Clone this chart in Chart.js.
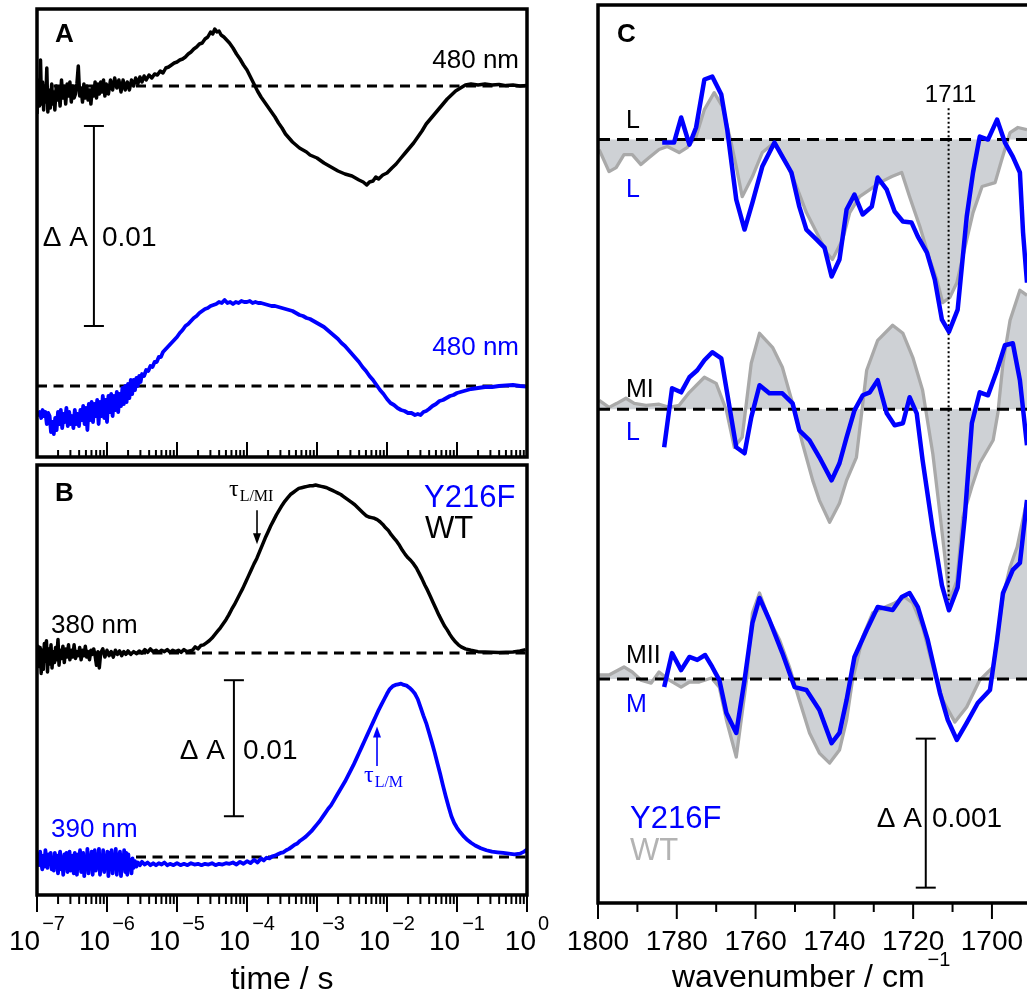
<!DOCTYPE html>
<html>
<head>
<meta charset="utf-8">
<title>Y216F / WT: flash photolysis transients and FTIR difference spectra</title>
<script src="https://cdn.jsdelivr.net/npm/chart.js@4.4.1/dist/chart.umd.min.js"></script>
<style>
  html, body { margin: 0; padding: 0; background: #fff; }
  body { position: relative; width: 1027px; height: 994px; overflow: hidden; }
  canvas { position: absolute; }
</style>
</head>
<body>
<canvas id="panelA" width="540" height="462" style="left:0;top:0"></canvas>
<canvas id="panelB" width="560" height="534" style="left:0;top:460px"></canvas>
<canvas id="panelC" width="467" height="994" style="left:560px;top:0"></canvas>
<script>
/* Values.
 * Panels A and B: [log10(t / s), ΔA in mOD].
 * Panel C: [wavenumber / cm-1, ΔA in units of 1e-4]. */

const TIME_EXPONENTS = [-7, -6, -5, -4, -3, -2, -1, 0];
const NU_TICKS = [1800, 1780, 1760, 1740, 1720, 1700];
const NU_MARK = 1711;

// A, WT 480 nm (black)
const A_WT_480 = [
  [-7.00,-1.4],[-6.98,0.3],[-6.965,-1.0],[-6.95,1.3],[-6.935,-0.9],[-6.92,0.2],[-6.905,-1.2],[-6.89,0.0],
  [-6.875,-0.8],[-6.86,0.9],[-6.845,-1.3],[-6.83,-0.2],[-6.81,-1.1],[-6.79,0.1],[-6.775,-0.9],[-6.76,-0.3],
  [-6.745,-1.2],[-6.725,0.0],[-6.71,-0.7],[-6.69,-0.1],[-6.67,-1.0],[-6.65,0.3],[-6.63,-0.6],[-6.61,0.0],
  [-6.59,-0.9],[-6.57,0.1],[-6.55,-0.5],[-6.53,0.2],[-6.51,-0.8],[-6.49,0.0],[-6.47,-0.6],[-6.45,-0.4],
  [-6.43,0.1],[-6.41,1.0],[-6.39,-0.5],[-6.37,-0.1],[-6.35,-0.8],[-6.33,0.1],[-6.31,-0.6],[-6.29,0.0],
  [-6.27,-0.7],[-6.25,-0.2],[-6.23,-0.9],[-6.21,-0.1],[-6.19,-0.5],[-6.17,0.2],[-6.15,-0.6],[-6.13,0.1],
  [-6.11,-0.4],[-6.09,0.2],[-6.07,-0.3],[-6.05,0.3],[-6.03,-0.5],[-6.01,0.1],[-5.98,-0.4],[-5.95,0.3],
  [-5.92,-0.2],[-5.89,0.4],[-5.86,-0.1],[-5.83,0.3],[-5.80,-0.3],[-5.77,0.3],[-5.74,-0.2],[-5.71,0.2],
  [-5.68,-0.2],[-5.65,0.3],[-5.62,0.0],[-5.59,0.4],[-5.56,0.1],[-5.53,0.45],[-5.50,0.2],[-5.47,0.5],
  [-5.44,0.3],[-5.40,0.55],[-5.36,0.4],[-5.32,0.6],[-5.28,0.55],[-5.24,0.75],[-5.20,0.65],[-5.16,0.9],
  [-5.12,0.95],[-5.08,1.05],[-5.04,1.15],[-5.00,1.2],[-4.96,1.3],[-4.92,1.35],[-4.88,1.45],[-4.84,1.6],
  [-4.80,1.7],[-4.76,1.85],[-4.72,1.95],[-4.68,2.1],[-4.64,2.15],[-4.60,2.35],[-4.56,2.45],[-4.52,2.7],
  [-4.49,2.6],[-4.46,2.85],[-4.43,2.7],[-4.40,2.75],[-4.37,2.55],[-4.33,2.45],[-4.29,2.3],[-4.25,2.15],
  [-4.20,1.9],[-4.15,1.6],[-4.10,1.35],[-4.05,1.05],[-4.00,0.8],[-3.95,0.45],[-3.90,0.1],[-3.85,-0.25],
  [-3.80,-0.55],[-3.75,-0.8],[-3.70,-1.05],[-3.65,-1.3],[-3.60,-1.55],[-3.55,-1.85],[-3.50,-2.1],[-3.45,-2.4],
  [-3.40,-2.6],[-3.35,-2.8],[-3.30,-2.95],[-3.25,-3.1],[-3.20,-3.2],[-3.15,-3.3],[-3.10,-3.45],[-3.00,-3.6],
  [-2.90,-3.85],[-2.80,-4.05],[-2.70,-4.25],[-2.60,-4.4],[-2.50,-4.5],[-2.40,-4.7],[-2.34,-4.8],[-2.29,-4.95],
  [-2.25,-4.8],[-2.20,-4.75],[-2.16,-4.55],[-2.12,-4.65],[-2.06,-4.45],[-2.00,-4.35],[-1.93,-4.1],[-1.87,-3.9],
  [-1.80,-3.6],[-1.74,-3.35],[-1.68,-3.1],[-1.62,-2.85],[-1.56,-2.55],[-1.50,-2.25],[-1.44,-1.9],[-1.38,-1.65],
  [-1.32,-1.4],[-1.26,-1.15],[-1.20,-0.9],[-1.14,-0.65],[-1.08,-0.45],[-1.02,-0.25],[-0.95,-0.1],[-0.88,0.05],
  [-0.80,0.1],[-0.70,0.05],[-0.60,0.1],[-0.50,0.05],[-0.40,0.08],[-0.30,0.02],[-0.20,0.05],[-0.10,0.0],[0.0,0.02]
];

// A, Y216F 480 nm (blue)
const A_Y216F_480 = [
  [-7.00,-1.5],[-6.98,-1.4],[-6.96,-1.3],[-6.94,-1.6],[-6.92,-1.2],[-6.90,-1.5],[-6.88,-1.3],[-6.86,-1.9],
  [-6.84,-1.35],[-6.82,-1.5],[-6.80,-2.3],[-6.78,-1.8],[-6.76,-2.4],[-6.74,-1.6],[-6.72,-2.2],[-6.70,-1.3],
  [-6.68,-1.9],[-6.66,-1.2],[-6.64,-2.1],[-6.62,-1.4],[-6.60,-1.8],[-6.58,-1.1],[-6.56,-2.0],[-6.54,-1.3],
  [-6.52,-1.9],[-6.50,-1.5],[-6.48,-2.1],[-6.46,-1.2],[-6.44,-1.9],[-6.42,-1.4],[-6.40,-2.0],[-6.38,-1.2],
  [-6.36,-1.7],[-6.34,-1.0],[-6.32,-1.9],[-6.30,-1.1],[-6.28,-2.2],[-6.26,-0.9],[-6.24,-1.7],[-6.22,-0.8],
  [-6.20,-1.8],[-6.18,-0.9],[-6.16,-1.5],[-6.14,-0.7],[-6.12,-1.9],[-6.10,-0.8],[-6.08,-1.5],[-6.06,-0.5],
  [-6.04,-1.6],[-6.02,-0.7],[-6.00,-1.8],[-5.98,-0.5],[-5.96,-1.3],[-5.94,-0.4],[-5.92,-1.5],[-5.90,-0.5],
  [-5.88,-1.2],[-5.86,-0.3],[-5.84,-1.3],[-5.82,-0.4],[-5.80,-1.0],[-5.78,-0.1],[-5.76,-0.9],[-5.74,0.0],
  [-5.72,-0.8],[-5.70,0.1],[-5.68,-0.6],[-5.66,0.3],[-5.64,-0.4],[-5.62,0.3],[-5.60,-0.2],[-5.58,0.4],
  [-5.56,0.0],[-5.54,0.5],[-5.52,0.2],[-5.50,0.6],[-5.47,0.5],[-5.44,0.8],[-5.41,0.75],[-5.38,1.0],
  [-5.35,0.95],[-5.32,1.2],[-5.29,1.2],[-5.26,1.45],[-5.23,1.45],[-5.20,1.7],[-5.16,1.85],[-5.12,2.0],
  [-5.08,2.15],[-5.04,2.3],[-5.00,2.45],[-4.96,2.65],[-4.92,2.8],[-4.88,3.0],[-4.84,3.1],[-4.80,3.25],
  [-4.76,3.4],[-4.72,3.5],[-4.68,3.65],[-4.64,3.75],[-4.60,3.85],[-4.56,3.9],[-4.52,4.0],[-4.48,4.05],
  [-4.44,4.1],[-4.40,4.2],[-4.36,4.15],[-4.32,4.3],[-4.28,4.15],[-4.24,4.2],[-4.20,4.1],[-4.16,4.2],
  [-4.12,4.15],[-4.08,4.25],[-4.04,4.2],[-4.00,4.2],[-3.96,4.25],[-3.92,4.15],[-3.88,4.2],[-3.84,4.15],
  [-3.80,4.15],[-3.75,4.1],[-3.70,4.05],[-3.65,4.0],[-3.60,4.0],[-3.55,3.95],[-3.50,3.9],[-3.45,3.85],
  [-3.40,3.8],[-3.35,3.75],[-3.30,3.65],[-3.25,3.55],[-3.20,3.5],[-3.15,3.4],[-3.10,3.35],[-3.05,3.25],
  [-3.00,3.15],[-2.95,3.05],[-2.90,2.95],[-2.85,2.8],[-2.80,2.65],[-2.75,2.5],[-2.70,2.35],[-2.65,2.15],
  [-2.60,2.0],[-2.55,1.8],[-2.50,1.6],[-2.45,1.4],[-2.40,1.2],[-2.35,0.95],[-2.30,0.75],[-2.25,0.5],
  [-2.20,0.3],[-2.15,0.05],[-2.10,-0.2],[-2.05,-0.4],[-2.00,-0.65],[-1.95,-0.85],[-1.90,-0.95],[-1.85,-1.1],
  [-1.80,-1.2],[-1.75,-1.25],[-1.70,-1.35],[-1.65,-1.35],[-1.60,-1.45],[-1.56,-1.4],[-1.52,-1.45],[-1.48,-1.3],
  [-1.44,-1.25],[-1.40,-1.15],[-1.35,-1.0],[-1.30,-0.9],[-1.25,-0.75],[-1.20,-0.7],[-1.15,-0.6],[-1.10,-0.5],
  [-1.05,-0.45],[-1.00,-0.35],[-0.90,-0.25],[-0.80,-0.15],[-0.70,-0.1],[-0.60,-0.05],[-0.50,-0.05],[-0.40,0.0],
  [-0.30,0.03],[-0.20,0.05],[-0.10,0.0],[0.0,-0.03]
];

// B, WT 380 nm (black)
const B_WT_380 = [
  [-7.00,-0.6],[-6.985,0.5],[-6.97,-1.0],[-6.955,0.4],[-6.94,-1.5],[-6.925,0.2],[-6.91,-1.2],[-6.895,0.7],
  [-6.88,-0.6],[-6.865,0.9],[-6.85,-1.4],[-6.835,0.3],[-6.82,-0.8],[-6.80,0.6],[-6.785,-1.1],[-6.77,0.1],
  [-6.75,-0.7],[-6.735,0.4],[-6.72,-0.5],[-6.70,1.0],[-6.685,-0.9],[-6.67,0.2],[-6.65,-0.4],[-6.63,0.5],
  [-6.61,-0.7],[-6.59,0.3],[-6.57,-0.3],[-6.55,0.6],[-6.53,-0.5],[-6.51,0.2],[-6.49,-0.3],[-6.47,0.6],
  [-6.45,-0.4],[-6.43,0.1],[-6.41,-0.2],[-6.39,0.4],[-6.37,-0.5],[-6.35,0.2],[-6.33,-0.2],[-6.31,0.5],
  [-6.29,-0.3],[-6.27,0.1],[-6.25,-0.5],[-6.23,0.2],[-6.21,-0.1],[-6.19,0.3],[-6.17,-0.2],[-6.15,-0.9],
  [-6.13,0.1],[-6.11,-1.1],[-6.09,0.0],[-6.06,0.3],[-6.03,-0.3],[-6.00,0.2],[-5.97,-0.2],[-5.94,0.1],
  [-5.91,-0.3],[-5.88,0.2],[-5.85,-0.1],[-5.82,0.15],[-5.79,-0.2],[-5.76,0.1],[-5.73,-0.1],[-5.70,0.15],
  [-5.66,-0.1],[-5.62,0.1],[-5.58,-0.05],[-5.54,0.15],[-5.50,0.0],[-5.46,0.25],[-5.42,0.05],[-5.38,0.3],
  [-5.34,0.1],[-5.30,0.2],[-5.26,0.05],[-5.22,0.2],[-5.18,0.1],[-5.14,0.25],[-5.10,0.05],[-5.06,0.2],
  [-5.02,0.1],[-4.98,0.2],[-4.94,0.05],[-4.90,0.25],[-4.86,0.1],[-4.82,0.15],[-4.78,0.2],[-4.74,0.45],
  [-4.70,0.3],[-4.66,0.55],[-4.62,0.6],[-4.58,0.75],[-4.54,0.9],[-4.50,1.1],[-4.46,1.35],[-4.42,1.6],
  [-4.38,1.85],[-4.34,2.15],[-4.30,2.45],[-4.26,2.8],[-4.22,3.2],[-4.18,3.55],[-4.14,3.95],[-4.10,4.35],
  [-4.06,4.75],[-4.02,5.2],[-3.98,5.65],[-3.94,6.1],[-3.90,6.55],[-3.86,6.95],[-3.82,7.45],[-3.78,7.95],
  [-3.74,8.45],[-3.70,8.9],[-3.66,9.35],[-3.62,9.75],[-3.58,10.15],[-3.54,10.5],[-3.50,10.85],[-3.46,11.15],
  [-3.42,11.4],[-3.38,11.65],[-3.34,11.8],[-3.30,11.95],[-3.26,12.1],[-3.22,12.15],[-3.18,12.2],[-3.14,12.25],
  [-3.10,12.3],[-3.06,12.3],[-3.02,12.35],[-2.98,12.3],[-2.94,12.25],[-2.90,12.2],[-2.86,12.15],[-2.82,12.05],
  [-2.78,11.95],[-2.74,11.85],[-2.70,11.75],[-2.66,11.65],[-2.62,11.5],[-2.58,11.35],[-2.54,11.2],[-2.50,11.05],
  [-2.46,10.9],[-2.42,10.7],[-2.38,10.5],[-2.34,10.3],[-2.30,10.1],[-2.26,10.0],[-2.22,9.95],[-2.18,9.9],
  [-2.14,9.8],[-2.10,9.65],[-2.06,9.45],[-2.02,9.2],[-1.98,9.0],[-1.94,8.7],[-1.90,8.45],[-1.86,8.2],
  [-1.82,7.9],[-1.78,7.55],[-1.74,7.25],[-1.70,7.0],[-1.66,6.8],[-1.62,6.55],[-1.58,6.25],[-1.54,5.85],
  [-1.50,5.45],[-1.46,5.0],[-1.42,4.6],[-1.38,4.15],[-1.34,3.7],[-1.30,3.25],[-1.26,2.8],[-1.22,2.4],
  [-1.18,2.0],[-1.14,1.7],[-1.10,1.35],[-1.06,1.05],[-1.02,0.8],[-0.98,0.6],[-0.94,0.45],[-0.88,0.3],
  [-0.80,0.2],[-0.70,0.1],[-0.60,0.08],[-0.50,0.05],[-0.40,0.03],[-0.30,0.05],[-0.20,0.08],[-0.10,0.15],[-0.02,0.25]
];

// B, Y216F 390 nm (blue)
const B_Y216F_390 = [
  [-7.00,-0.3],[-6.985,0.2],[-6.97,-0.6],[-6.955,0.4],[-6.94,-0.4],[-6.925,-0.9],[-6.91,0.1],[-6.895,-0.7],
  [-6.88,0.5],[-6.865,-0.3],[-6.85,-0.8],[-6.835,0.2],[-6.82,-0.5],[-6.805,0.3],[-6.79,-0.9],[-6.775,-0.1],
  [-6.76,-1.0],[-6.745,0.3],[-6.73,-0.6],[-6.715,0.1],[-6.70,-1.2],[-6.685,-0.2],[-6.67,0.4],[-6.655,-0.9],
  [-6.64,-0.3],[-6.625,-1.3],[-6.61,0.2],[-6.595,-0.8],[-6.58,0.3],[-6.565,-1.1],[-6.55,-0.2],[-6.535,0.4],
  [-6.52,-1.0],[-6.505,-0.3],[-6.49,0.1],[-6.475,-1.2],[-6.46,0.3],[-6.445,-0.7],[-6.43,-1.3],[-6.415,0.2],
  [-6.40,-0.5],[-6.385,0.5],[-6.37,-1.1],[-6.355,-0.2],[-6.34,0.3],[-6.325,-1.4],[-6.31,0.0],[-6.295,-0.9],
  [-6.28,0.6],[-6.265,-1.2],[-6.25,0.1],[-6.235,-0.6],[-6.22,0.4],[-6.205,-1.3],[-6.19,-0.1],[-6.175,0.5],
  [-6.16,-1.0],[-6.145,0.2],[-6.13,-0.8],[-6.115,0.6],[-6.10,-1.3],[-6.085,0.0],[-6.07,-0.9],[-6.055,0.5],
  [-6.04,-1.1],[-6.025,0.1],[-6.01,-0.7],[-5.995,0.4],[-5.98,-1.4],[-5.965,0.3],[-5.95,-0.8],[-5.935,0.5],
  [-5.92,-1.2],[-5.905,0.1],[-5.89,-0.6],[-5.875,0.6],[-5.86,-1.3],[-5.845,0.2],[-5.83,-0.9],[-5.815,0.4],
  [-5.80,-1.4],[-5.785,0.1],[-5.77,-0.8],[-5.755,0.5],[-5.74,-1.1],[-5.725,0.3],[-5.71,-1.3],[-5.695,0.2],
  [-5.68,-0.9],[-5.665,-0.2],[-5.65,-1.2],[-5.635,-0.1],[-5.62,-0.8],[-5.60,-0.3],[-5.58,-0.7],[-5.56,-0.4],
  [-5.53,-0.6],[-5.50,-0.35],[-5.46,-0.55],[-5.42,-0.4],[-5.38,-0.6],[-5.34,-0.45],[-5.30,-0.6],[-5.26,-0.45],
  [-5.22,-0.55],[-5.18,-0.4],[-5.14,-0.6],[-5.10,-0.5],[-5.05,-0.6],[-5.00,-0.45],[-4.95,-0.6],[-4.90,-0.5],
  [-4.85,-0.6],[-4.80,-0.45],[-4.75,-0.55],[-4.70,-0.5],[-4.65,-0.6],[-4.60,-0.5],[-4.55,-0.55],[-4.50,-0.45],
  [-4.45,-0.6],[-4.40,-0.5],[-4.35,-0.55],[-4.30,-0.45],[-4.25,-0.5],[-4.20,-0.4],[-4.15,-0.55],[-4.10,-0.35],
  [-4.05,-0.5],[-4.00,-0.3],[-3.95,-0.45],[-3.90,-0.2],[-3.85,-0.4],[-3.80,-0.1],[-3.76,-0.25],[-3.72,-0.05],
  [-3.68,-0.1],[-3.64,0.05],[-3.60,0.1],[-3.56,0.2],[-3.52,0.3],[-3.48,0.35],[-3.44,0.5],[-3.40,0.6],
  [-3.36,0.75],[-3.32,0.9],[-3.28,1.0],[-3.24,1.2],[-3.20,1.35],[-3.16,1.5],[-3.12,1.7],[-3.08,1.9],
  [-3.04,2.15],[-3.00,2.4],[-2.96,2.65],[-2.92,2.95],[-2.88,3.25],[-2.84,3.55],[-2.80,3.8],[-2.76,4.15],
  [-2.72,4.5],[-2.68,4.85],[-2.64,5.2],[-2.60,5.55],[-2.56,5.95],[-2.52,6.35],[-2.48,6.75],[-2.44,7.2],
  [-2.40,7.65],[-2.36,8.1],[-2.32,8.55],[-2.28,9.0],[-2.24,9.45],[-2.20,9.9],[-2.16,10.35],[-2.12,10.8],
  [-2.08,11.2],[-2.04,11.6],[-2.00,12.0],[-1.96,12.35],[-1.92,12.55],[-1.88,12.65],[-1.84,12.7],[-1.80,12.75],
  [-1.76,12.65],[-1.72,12.6],[-1.68,12.45],[-1.64,12.25],[-1.60,12.0],[-1.56,11.6],[-1.52,11.0],[-1.48,10.4],
  [-1.44,9.85],[-1.40,9.15],[-1.36,8.45],[-1.32,7.7],[-1.28,6.9],[-1.24,6.1],[-1.20,5.25],[-1.16,4.45],
  [-1.12,3.7],[-1.08,3.0],[-1.04,2.5],[-1.00,2.15],[-0.95,1.8],[-0.90,1.5],[-0.85,1.25],[-0.80,1.05],
  [-0.74,0.85],[-0.66,0.65],[-0.58,0.5],[-0.50,0.4],[-0.42,0.35],[-0.34,0.3],[-0.26,0.25],[-0.18,0.2],
  [-0.10,0.25],[-0.04,0.4],[0.0,0.55]
];

// C, pair 1: WT L (grey) and Y216F L (blue)
const C_WT_L = [
  [1799.7,-0.67],[1797.2,-2.15],[1795.4,-1.88],[1793.4,-1.01],[1791.3,-1.01],[1789.1,-1.68],[1787.0,-1.21],
  [1784.5,-0.67],[1782.4,-0.47],[1779.4,-0.87],[1777.4,-0.54],[1775.1,0.20],[1773.0,2.01],[1770.5,3.15],
  [1768.4,2.21],[1766.2,-0.20],[1764.9,-1.81],[1763.4,-3.83],[1760.8,-2.48],[1758.3,-0.87],[1755.2,-0.20],
  [1752.2,-1.54],[1749.6,-3.15],[1747.1,-4.90],[1744.5,-6.24],[1742.0,-7.58],[1740.5,-8.05],[1737.9,-6.71],
  [1736.1,-4.90],[1733.6,-3.83],[1731.0,-3.36],[1728.5,-2.89],[1725.4,-2.48],[1722.9,-2.21],[1720.9,-3.83],
  [1718.3,-5.84],[1715.8,-8.05],[1714.0,-9.40],[1712.5,-10.94],[1710.7,-10.60],[1708.9,-9.60],[1706.4,-6.71],
  [1704.8,-4.90],[1702.5,-3.15],[1699.2,-2.89],[1697.5,-1.34],[1695.4,0.47],[1693.4,0.81],[1691.1,0.67]
];
const C_Y216F_L = [
  [1783.7,-0.20],[1780.7,-0.20],[1778.9,1.48],[1776.8,-0.34],[1775.1,0.81],[1773.0,4.03],[1771.0,4.23],
  [1768.7,3.02],[1767.2,0.67],[1764.9,-4.03],[1762.8,-6.04],[1760.8,-4.23],[1758.3,-1.81],[1755.2,-0.20],
  [1753.2,-1.14],[1750.9,-2.21],[1748.9,-4.50],[1747.1,-6.04],[1744.5,-6.71],[1742.5,-7.25],[1740.7,-9.19],
  [1738.7,-8.05],[1736.9,-4.70],[1734.9,-3.69],[1732.8,-5.03],[1730.5,-4.50],[1729.0,-2.55],[1726.7,-3.36],
  [1724.7,-4.83],[1722.6,-5.50],[1720.4,-5.57],[1718.8,-6.51],[1716.5,-7.58],[1714.5,-9.40],[1712.7,-12.08],
  [1710.9,-12.9],[1708.7,-11.41],[1706.4,-5.17],[1704.8,-2.21],[1703.1,0.20],[1701.0,0.0],[1698.7,1.34],
  [1696.7,-0.20],[1694.7,-1.14],[1692.9,-2.21],[1692.1,-6.24],[1691.1,-9.60]
];

// C, pair 2: WT MI (grey) and Y216F L (blue)
const C_WT_MI = [
  [1799.7,0.60],[1797.2,0.13],[1795.2,0.40],[1792.9,0.74],[1790.8,0.40],[1787.8,0.27],[1784.5,0.34],
  [1781.9,0.13],[1779.4,0.27],[1776.8,1.14],[1773.0,2.15],[1770.0,1.74],[1767.4,-0.07],[1765.4,-2.55],
  [1763.4,-1.88],[1761.1,3.09],[1759.0,5.10],[1755.7,4.16],[1753.2,2.82],[1750.6,0.40],[1748.1,-2.28],
  [1745.5,-4.77],[1743.8,-6.11],[1741.2,-7.58],[1738.7,-6.31],[1736.9,-4.77],[1734.4,-3.22],[1731.8,2.62],
  [1729.0,4.63],[1725.2,5.64],[1722.6,5.10],[1720.1,3.49],[1717.6,1.28],[1715.0,-3.0],[1713.2,-7.0],
  [1710.7,-12.8],[1708.9,-11.5],[1707.4,-7.25],[1705.1,-5.2],[1703.1,-3.62],[1699.7,-2.08],[1698.5,-0.27],
  [1697.2,3.09],[1695.4,5.97],[1692.9,7.99],[1691.1,7.65]
];
const C_Y216F_L2 = [
  [1783.2,-2.55],[1781.2,1.41],[1778.9,1.14],[1776.8,2.15],[1774.8,2.62],[1773.0,3.29],[1771.0,3.83],
  [1768.7,3.42],[1767.2,1.07],[1764.9,-2.55],[1762.8,-2.95],[1761.1,-0.54],[1759.0,1.61],[1756.5,1.07],
  [1753.2,1.07],[1750.6,0.40],[1748.9,-1.41],[1746.3,-2.08],[1743.8,-3.22],[1740.7,-4.77],[1738.7,-3.62],
  [1736.9,-1.88],[1734.9,-0.07],[1732.8,0.94],[1731.0,1.14],[1729.0,1.95],[1726.7,-0.27],[1724.7,-1.07],
  [1722.6,-0.94],[1720.9,0.81],[1719.1,-0.27],[1717.6,-3.42],[1715.0,-8.12],[1712.7,-11.81],[1710.9,-13.49],
  [1708.7,-11.95],[1706.9,-7.25],[1705.1,-0.94],[1703.1,1.14],[1701.0,0.94],[1698.7,2.62],[1696.7,4.30],
  [1694.7,4.43],[1692.9,1.95],[1691.1,-2.42]
];

// C, pair 3: WT MII (grey) and Y216F M (blue)
const C_WT_MII = [
  [1799.7,0.27],[1797.2,0.27],[1793.4,0.81],[1791.3,0.47],[1789.1,-0.07],[1786.5,-0.27],[1784.5,0.47],
  [1781.9,-0.07],[1778.9,-0.54],[1776.8,-0.20],[1774.3,-0.20],[1771.2,0.07],[1769.2,-0.54],[1767.4,-2.75],
  [1764.9,-5.23],[1762.3,-0.07],[1760.8,4.43],[1759.0,5.77],[1756.5,3.96],[1753.9,2.62],[1751.4,0.81],
  [1748.9,-1.41],[1746.3,-3.62],[1743.8,-4.97],[1741.2,-5.64],[1738.7,-4.77],[1736.9,-2.75],[1735.4,-0.07],
  [1732.8,2.82],[1730.3,4.43],[1727.7,4.77],[1724.7,5.10],[1722.1,5.50],[1720.1,5.10],[1717.6,3.49],
  [1715.0,0.81],[1712.5,-1.41],[1709.4,-2.89],[1706.4,-1.88],[1703.1,-0.07],[1699.7,0.81],[1697.2,5.50],
  [1695.4,7.52],[1693.6,8.86],[1691.1,12.01]
];
const C_Y216F_M = [
  [1783.2,-0.54],[1781.2,1.74],[1778.9,0.60],[1776.8,1.48],[1774.8,1.28],[1772.8,1.61],[1771.0,0.81],
  [1769.2,-0.07],[1767.4,-2.28],[1764.9,-3.62],[1762.8,-0.07],[1760.8,3.76],[1759.0,5.44],[1756.5,3.96],
  [1753.2,1.74],[1750.1,-0.54],[1747.1,-0.74],[1743.8,-2.08],[1740.7,-4.30],[1738.7,-3.62],[1736.9,-1.41],
  [1734.9,1.48],[1731.8,3.29],[1729.0,4.83],[1725.2,4.63],[1722.9,5.50],[1720.9,5.77],[1718.8,4.83],
  [1716.3,2.62],[1713.2,-0.94],[1711.2,-2.75],[1708.9,-4.09],[1706.4,-2.95],[1703.6,-1.61],[1700.5,-0.74],
  [1698.7,2.62],[1697.2,5.77],[1694.7,7.32],[1692.9,7.79],[1691.1,12.01]
];

// vertical offsets of the stacked traces (same units as each panel)
const A_OFFSETS = { wt: 15, y216f: 0 };
const B_OFFSETS = { wt: 15, y216f: 0 };
const C_OFFSETS = { top: 36.2, mid: 18.1, low: 0 };
const C_MARK_SPAN = [38.3, 5.3];

// scale bars: ΔA 0.01 (A, B) and ΔA 0.001 (C)
const A_BAR = { x: 6.5e-7, lo: 3, hi: 13 };
const B_BAR = { x: 6.5e-5, lo: 3, hi: 13 };
const C_BAR = { x: 1716.8, lo: -14, hi: -4 };

// τ arrows in B
const B_ARROWS = [
  { t: 1.39e-4, from: 25.5, to: 23.0, blue: false },
  { t: 7.2e-3, from: 6.7, to: 9.6, blue: true }
];

/* ── styles ─────────────────────────────────────────── */
const BLUE = '#0000ff';
const BLACK = '#000000';
const GRAY_LINE = '#a9a9a9';
const GRAY_FILL = '#ced1d5';
const GRAY_TEXT = '#b3b3b3';
const SANS = '"Liberation Sans", Arial, sans-serif';
const SERIF = '"Liberation Serif", "DejaVu Serif", serif';
const MINUS = '\u2212';

const toTime = (arr, off) => arr.map(([lg, v]) => ({ x: Math.pow(10, lg), y: v + off }));
const toNu = (arr, off) => arr.map(([nu, v]) => ({ x: nu, y: v + off }));

const trace = (data, color, width, order) =>
  ({ data, borderColor: color, borderWidth: width, borderJoinStyle: 'round', fill: false, order });
const dashed = (x0, x1, y, dash) =>
  ({ data: [{ x: x0, y }, { x: x1, y }], borderColor: BLACK, borderWidth: 3, borderDash: dash, fill: false, order: 5 });
const wtArea = (arr, off) =>
  ({ data: toNu(arr, off), borderColor: GRAY_LINE, borderWidth: 3.3, borderJoinStyle: 'round',
     backgroundColor: GRAY_FILL, fill: { value: off }, order: 6 });

/* ── drawing helpers ────────────────────────────────── */
function stroke(ctx, x1, y1, x2, y2, w, color) {
  ctx.beginPath(); ctx.moveTo(x1, y1); ctx.lineTo(x2, y2);
  ctx.lineWidth = w; ctx.strokeStyle = color || BLACK; ctx.stroke();
}
function text(ctx, s, x, y, size, o = {}) {
  ctx.font = `${o.bold ? 'bold ' : ''}${size}px ${o.family || SANS}`;
  ctx.fillStyle = o.color || BLACK;
  ctx.textAlign = o.align || 'left';
  ctx.textBaseline = 'alphabetic';
  ctx.fillText(s, x, y);
  return ctx.measureText(s).width;
}
function frame(ctx, a, sides, w) {
  ctx.save();
  ctx.lineWidth = w; ctx.strokeStyle = BLACK; ctx.lineCap = 'square';
  ctx.beginPath();
  if (sides.includes('t')) { ctx.moveTo(a.left, a.top); ctx.lineTo(a.right, a.top); }
  if (sides.includes('b')) { ctx.moveTo(a.left, a.bottom); ctx.lineTo(a.right, a.bottom); }
  if (sides.includes('l')) { ctx.moveTo(a.left, a.top); ctx.lineTo(a.left, a.bottom); }
  if (sides.includes('r')) { ctx.moveTo(a.right, a.top); ctx.lineTo(a.right, a.bottom); }
  ctx.stroke();
  ctx.restore();
}
function scaleBar(ctx, x, y1, y2, half) {
  stroke(ctx, x, y1, x, y2, 2);
  stroke(ctx, x - half, y1, x + half, y1, 2);
  stroke(ctx, x - half, y2, x + half, y2, 2);
}
function arrow(ctx, x, yFrom, yTo, color) {
  const dir = Math.sign(yTo - yFrom);
  stroke(ctx, x, yFrom, x, yTo - dir * 8, 1.6, color);
  ctx.beginPath();
  ctx.moveTo(x, yTo); ctx.lineTo(x - 4, yTo - dir * 11); ctx.lineTo(x + 4, yTo - dir * 11);
  ctx.closePath(); ctx.fillStyle = color; ctx.fill();
}
function logTicks(ctx, xs, y0, dir, major, minor) {
  for (const e of TIME_EXPONENTS) {
    for (let k = 1; k <= 9; k++) {
      const v = k * Math.pow(10, e);
      if (v > 1.000001) break;
      const px = xs.getPixelForValue(v);
      stroke(ctx, px, y0, px, y0 + dir * (k === 1 ? major : minor), 2);
    }
  }
}
function pow10(ctx, cx, y, exp) {
  const sup = String(exp).replace('-', MINUS);
  ctx.font = `28px ${SANS}`; const wb = ctx.measureText('10').width;
  ctx.font = `20px ${SANS}`; const ws = ctx.measureText(sup).width;
  const x0 = cx - (wb + ws + 2) / 2;
  text(ctx, '10', x0, y, 28);
  text(ctx, sup, x0 + wb + 2, y - 20, 20);
}
function tau(ctx, x, y, sub, color) {
  const w = text(ctx, 'τ', x, y, 24, { family: SERIF, color });
  text(ctx, sub, x + w + 1, y + 5, 16, { family: SERIF, color });
}

const baseOptions = (padding, xScale, yScale) => ({
  responsive: false,
  animation: false,
  events: [],
  layout: { padding },
  elements: { point: { radius: 0 }, line: { tension: 0 } },
  plugins: { legend: { display: false }, tooltip: { enabled: false } },
  scales: { x: Object.assign({ display: false }, xScale), y: Object.assign({ display: false }, yScale) }
});

/* ── A ──────────────────────────────────────────────── */
new Chart(document.getElementById('panelA'), {
  type: 'line',
  data: {
    datasets: [
      trace(toTime(A_Y216F_480, A_OFFSETS.y216f), BLUE, 3.8, 1),
      trace(toTime(A_WT_480, A_OFFSETS.wt), BLACK, 3.5, 2),
      dashed(1e-7, 1, A_OFFSETS.wt, [10, 6.5]),
      dashed(1e-7, 1, A_OFFSETS.y216f, [10, 6.5])
    ]
  },
  options: baseOptions({ left: 37, right: 13, top: 9, bottom: 5 },
    { type: 'logarithmic', min: 1e-7, max: 1 },
    { type: 'linear', min: -3.55, max: 18.85 }),
  plugins: [{
    id: 'decorA',
    afterDraw(chart) {
      const { ctx, chartArea: a, scales: { x, y } } = chart;
      ctx.save();
      logTicks(ctx, x, a.bottom, -1, 15, 7);
      frame(ctx, a, 'lrtb', 3.5);
      scaleBar(ctx, x.getPixelForValue(A_BAR.x), y.getPixelForValue(A_BAR.hi), y.getPixelForValue(A_BAR.lo), 10);
      text(ctx, 'A', 55, 42, 26, { bold: true });
      text(ctx, '480 nm', 519, 68, 26, { align: 'right' });
      text(ctx, '480 nm', 519, 355, 26, { align: 'right', color: BLUE });
      text(ctx, 'Δ A', 88, 246, 28, { align: 'right' });
      text(ctx, '0.01', 102, 246, 28);
      ctx.restore();
    }
  }]
});

/* ── B ──────────────────────────────────────────────── */
new Chart(document.getElementById('panelB'), {
  type: 'line',
  data: {
    datasets: [
      trace(toTime(B_Y216F_390, B_OFFSETS.y216f), BLUE, 3.8, 1),
      trace(toTime(B_WT_380, B_OFFSETS.wt), BLACK, 3.5, 2),
      dashed(1e-7, 1, B_OFFSETS.wt, [10, 6.5]),
      dashed(1e-7, 1, B_OFFSETS.y216f, [10, 6.5])
    ]
  },
  options: baseOptions({ left: 37, right: 33, top: 5, bottom: 99 },
    { type: 'logarithmic', min: 1e-7, max: 1 },
    { type: 'linear', min: -2.79, max: 28.82 }),
  plugins: [{
    id: 'decorB',
    afterDraw(chart) {
      const { ctx, chartArea: a, scales: { x, y } } = chart;
      const oy = 460;
      ctx.save();
      logTicks(ctx, x, a.bottom, 1, 17, 9);
      frame(ctx, a, 'lrtb', 3.5);
      TIME_EXPONENTS.forEach((e) => pow10(ctx, x.getPixelForValue(Math.pow(10, e)), 950 - oy, e));
      text(ctx, 'time / s', (a.left + a.right) / 2, 989 - oy, 32, { align: 'center' });
      scaleBar(ctx, x.getPixelForValue(B_BAR.x), y.getPixelForValue(B_BAR.hi), y.getPixelForValue(B_BAR.lo), 10);
      B_ARROWS.forEach((r) => arrow(ctx, x.getPixelForValue(r.t), y.getPixelForValue(r.from),
        y.getPixelForValue(r.to), r.blue ? BLUE : BLACK));
      ctx.translate(0, -oy);
      text(ctx, 'B', 55, 501, 26, { bold: true });
      tau(ctx, 229, 496, 'L/MI', BLACK);
      tau(ctx, 364, 782, 'L/M', BLUE);
      text(ctx, 'Y216F', 424, 507, 31, { color: BLUE });
      text(ctx, 'WT', 425, 538, 31);
      text(ctx, '380 nm', 51, 633, 26);
      text(ctx, '390 nm', 51, 837, 26, { color: BLUE });
      text(ctx, 'Δ A', 225, 759, 28, { align: 'right' });
      text(ctx, '0.01', 243, 759, 28);
      ctx.restore();
    }
  }]
});

/* ── C ──────────────────────────────────────────────── */
new Chart(document.getElementById('panelC'), {
  type: 'line',
  data: {
    datasets: [
      trace(toNu(C_Y216F_L, C_OFFSETS.top), BLUE, 4.5, 1),
      trace(toNu(C_Y216F_L2, C_OFFSETS.mid), BLUE, 4.5, 1),
      trace(toNu(C_Y216F_M, C_OFFSETS.low), BLUE, 4.5, 1),
      { data: [{ x: NU_MARK, y: C_MARK_SPAN[0] }, { x: NU_MARK, y: C_MARK_SPAN[1] }],
        borderColor: BLACK, borderWidth: 2, borderDash: [2, 2.5], fill: false, order: 3 },
      dashed(1800, 1690, C_OFFSETS.top, [12, 7]),
      dashed(1800, 1690, C_OFFSETS.mid, [12, 7]),
      dashed(1800, 1690, C_OFFSETS.low, [12, 7]),
      wtArea(C_WT_L, C_OFFSETS.top),
      wtArea(C_WT_MI, C_OFFSETS.mid),
      wtArea(C_WT_MII, C_OFFSETS.low)
    ]
  },
  options: baseOptions({ left: 38, right: 0, top: 5, bottom: 91 },
    { type: 'linear', min: 1691.1, max: 1800, reverse: true },
    { type: 'linear', min: -15.03, max: 45.23 }),
  plugins: [{
    id: 'decorC',
    afterDraw(chart) {
      const { ctx, chartArea: a, scales: { x, y } } = chart;
      const ox = 560;
      ctx.save();
      frame(ctx, a, 'ltb', 3.5);
      for (let v = 1800; v > 1690; v -= 10) {
        const px = x.getPixelForValue(v);
        stroke(ctx, px, a.bottom, px, a.bottom + (v % 20 === 0 ? 16 : 9), 2);
      }
      NU_TICKS.forEach((v) => text(ctx, String(v), x.getPixelForValue(v), 950, 28, { align: 'center' }));
      scaleBar(ctx, x.getPixelForValue(C_BAR.x), y.getPixelForValue(C_BAR.hi), y.getPixelForValue(C_BAR.lo), 10);
      text(ctx, String(NU_MARK), x.getPixelForValue(NU_MARK) + 2, 102, 24, { align: 'center' });
      ctx.translate(-ox, 0);
      text(ctx, 'C', 617, 42, 26, { bold: true });
      text(ctx, 'L', 626, 128, 25);
      text(ctx, 'L', 626, 197, 25, { color: BLUE });
      text(ctx, 'MI', 626, 397, 25);
      text(ctx, 'L', 626, 440, 25, { color: BLUE });
      text(ctx, 'MII', 626, 663, 25);
      text(ctx, 'M', 626, 712, 25, { color: BLUE });
      text(ctx, 'Y216F', 630, 828, 31, { color: BLUE });
      text(ctx, 'WT', 630, 860, 31, { color: GRAY_TEXT });
      text(ctx, 'Δ A', 922, 827, 28, { align: 'right' });
      text(ctx, '0.001', 932, 827, 28);
      const w = text(ctx, 'wavenumber / cm', 672, 987, 32);
      text(ctx, MINUS + '1', 672 + w + 3, 966, 20);
      ctx.restore();
    }
  }]
});
</script>
</body>
</html>
